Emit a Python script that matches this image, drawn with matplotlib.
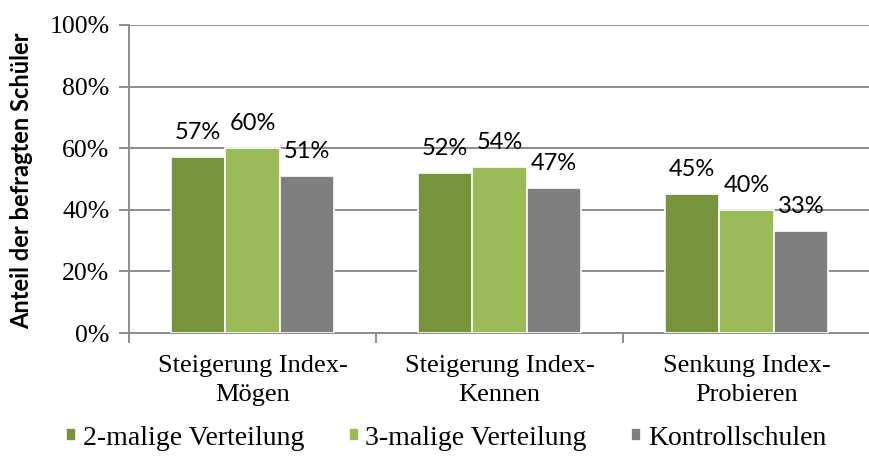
import matplotlib
matplotlib.use("Agg")
import matplotlib.pyplot as plt
import numpy as np

categories = ["Steigerung Index-\nMögen", "Steigerung Index-\nKennen", "Senkung Index-\nProbieren"]
series_names = ["2-malige Verteilung", "3-malige Verteilung", "Kontrollschulen"]
zwei_malig = [57, 52, 45]
drei_malig = [60, 54, 40]
kontrolle = [51, 47, 33]
colors = ["#77933C", "#9BBB59", "#7F7F7F"]

SERIF = "Liberation Serif"
LABEL_FONT = "Lato"

fig = plt.figure(figsize=(8.70, 4.61), dpi=100)
ax = fig.add_axes([129 / 870, 128 / 461, 741 / 870, 308 / 461])

x = np.arange(len(categories))
width = 0.22
for i, (vals, name, col) in enumerate(zip([zwei_malig, drei_malig, kontrolle], series_names, colors)):
    pos = x + (i - 1) * width
    ax.bar(pos, vals, width, color=col, edgecolor="white", linewidth=1.2, label=name, zorder=3)
    for px, v in zip(pos, vals):
        ax.annotate(f"{v}%", (px, v), xytext=(0, 13), textcoords="offset points",
                    ha="center", va="baseline", fontsize=17, family=LABEL_FONT, zorder=4)

ax.set_ylim(0, 100)
ax.set_xlim(-0.5, 2.5 - 6 / 249)
ax.set_yticks(range(0, 101, 20))
ax.set_yticklabels([f"{t}%" for t in range(0, 101, 20)], family=SERIF, fontsize=18.5)
ax.yaxis.grid(True, color="#8C8C8C", linewidth=1.4, zorder=0)
ax.set_axisbelow(True)

# category ticks sit on the boundaries between groups
ax.set_xticks([-0.5, 0.5, 1.5, 2.5])
ax.set_xticklabels([])
ax.set_xticks(x, minor=True)
ax.set_xticklabels(categories, minor=True, family=SERIF, fontsize=19, linespacing=1.38)
ax.tick_params(axis="x", which="minor", length=0, pad=16)
ax.tick_params(axis="x", which="major", length=7, width=1.4, color="#8C8C8C")
ax.tick_params(axis="y", length=7, width=1.4, color="#8C8C8C", pad=7)

for side in ["top", "right"]:
    ax.spines[side].set_visible(False)
for side in ["left", "bottom"]:
    ax.spines[side].set_color("#8C8C8C")
    ax.spines[side].set_linewidth(1.4)

fig.text(22 / 870, (461 - 181) / 461, "Anteil der befragten Schüler", rotation=90,
         ha="center", va="center", fontsize=17, fontweight="bold", family="Lato")

handles, labels = ax.get_legend_handles_labels()
fig.legend(handles, labels, loc="center", bbox_to_anchor=(0.513, (461 - 438) / 461), ncol=3,
           frameon=False, prop={"family": SERIF, "size": 20}, handlelength=0.35, handleheight=0.35,
           handletextpad=0.25, columnspacing=1.6, borderaxespad=0)

fig.savefig("out.png", dpi=100)
